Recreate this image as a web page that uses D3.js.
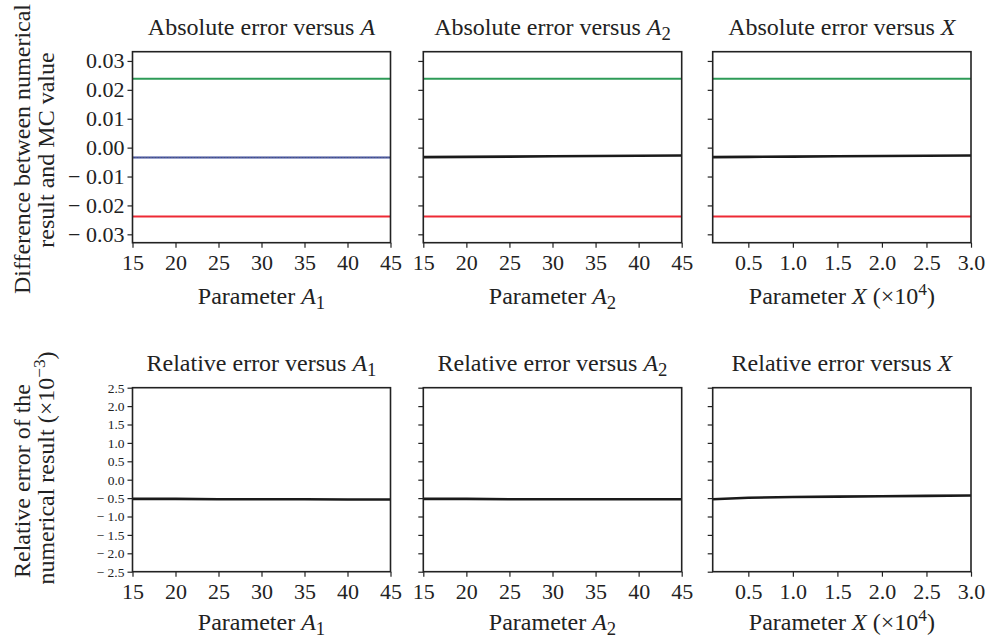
<!DOCTYPE html>
<html>
<head>
<meta charset="utf-8">
<script src="https://cdn.jsdelivr.net/npm/d3@7"></script>
<style>
  body { margin: 0; background: #fff; }
  svg { display: block; }
  text { font-family: "Liberation Serif", "Times New Roman", serif; fill: #222; }
</style>
</head>
<body>
<svg id="chart" width="991" height="641"></svg>
<script>
// Parameter grids
var paramA = [15, 20, 25, 30, 35, 40, 45];
var paramX = [0.1, 0.5, 1.0, 1.5, 2.0, 2.5, 3.0];

// Absolute error (numerical - MC) and MC confidence bounds
var upperBound = [0.0238, 0.0238, 0.0238, 0.0238, 0.0238, 0.0238, 0.0238];
var lowerBound = [-0.0238, -0.0238, -0.0238, -0.0238, -0.0238, -0.0238, -0.0238];
var absErrA1 = [-0.0034, -0.0034, -0.0034, -0.0034, -0.0034, -0.0034, -0.0034];
var absErrA2 = [-0.0033, -0.0032, -0.0031, -0.0030, -0.0029, -0.0028, -0.0027];
var absErrX = [-0.0033, -0.0032, -0.0031, -0.0030, -0.0029, -0.0028, -0.0027];

// Relative error (x 10^-3)
var relErrA1 = [-0.52, -0.52, -0.53, -0.53, -0.53, -0.54, -0.54];
var relErrA2 = [-0.52, -0.52, -0.53, -0.53, -0.53, -0.53, -0.53];
var relErrX = [-0.53, -0.49, -0.47, -0.46, -0.45, -0.44, -0.43];

// Tick labels
var absTicks = [-0.03, -0.02, -0.01, 0, 0.01, 0.02, 0.03];
var relTicks = [-2.5, -2.0, -1.5, -1.0, -0.5, 0, 0.5, 1.0, 1.5, 2.0, 2.5];
var aTicks = [15, 20, 25, 30, 35, 40, 45];
var xTicks = [0.5, 1.0, 1.5, 2.0, 2.5, 3.0];

var svg = d3.select("#chart");

var cols = [[132.5, 390.5], [423.3, 681.7], [712.7, 971]];
var rows = [[51.7, 242.7], [387.7, 571.7]];
var labelSize = 24;

function fmtSigned(digits) {
    return function(d) {
        var s = Math.abs(d).toFixed(digits);
        return d < 0 ? "\u2212 " + s : s;
    };
}

// add text with italic symbol and optional subscript / superscript pieces
function richText(g, parts, size) {
    parts.forEach(function(p) {
        var t = g.append("tspan").text(p.t);
        if (p.i) t.style("font-style", "italic");
        if (p.sub) t.attr("dy", size * 0.22).style("font-size", (size * 0.78) + "px");
        if (p.sup) t.attr("dy", -size * 0.36).style("font-size", (size * 0.72) + "px");
        if (p.back) t.attr("dy", p.back);
    });
}

var panels = [
    { row: 0, col: 0, x: paramA, xDom: [15, 45], xt: aTicks, series: [
        { v: upperBound, c: "#2e9b57", w: 2 },
        { v: lowerBound, c: "#ee2a35", w: 2 },
        { v: absErrA1, c: "#3b4a9e", w: 2 },
        { v: absErrA1, c: "#777", w: 1, dash: "1,2" }],
      title: [{ t: "Absolute error versus " }, { t: "A", i: true }],
      xlab: [{ t: "Parameter " }, { t: "A", i: true }, { t: "1", sub: true }] },
    { row: 0, col: 1, x: paramA, xDom: [15, 45], xt: aTicks, series: [
        { v: upperBound, c: "#2e9b57", w: 2 },
        { v: lowerBound, c: "#ee2a35", w: 2 },
        { v: absErrA2, c: "#1a1a1a", w: 2.6 }],
      title: [{ t: "Absolute error versus " }, { t: "A", i: true }, { t: "2", sub: true }],
      xlab: [{ t: "Parameter " }, { t: "A", i: true }, { t: "2", sub: true }] },
    { row: 0, col: 2, x: paramX, xDom: [0.1, 3.0], xt: xTicks, series: [
        { v: upperBound, c: "#2e9b57", w: 2 },
        { v: lowerBound, c: "#ee2a35", w: 2 },
        { v: absErrX, c: "#1a1a1a", w: 2.6 }],
      title: [{ t: "Absolute error versus " }, { t: "X", i: true }],
      xlab: [{ t: "Parameter " }, { t: "X", i: true }, { t: "  (\u00d710" }, { t: "4", sup: true }, { t: ")", back: 8.6 }] },
    { row: 1, col: 0, x: paramA, xDom: [15, 45], xt: aTicks, series: [
        { v: relErrA1, c: "#1a1a1a", w: 2.6 }],
      title: [{ t: "Relative error versus " }, { t: "A", i: true }, { t: "1", sub: true }],
      xlab: [{ t: "Parameter " }, { t: "A", i: true }, { t: "1", sub: true }] },
    { row: 1, col: 1, x: paramA, xDom: [15, 45], xt: aTicks, series: [
        { v: relErrA2, c: "#1a1a1a", w: 2.6 }],
      title: [{ t: "Relative error versus " }, { t: "A", i: true }, { t: "2", sub: true }],
      xlab: [{ t: "Parameter " }, { t: "A", i: true }, { t: "2", sub: true }] },
    { row: 1, col: 2, x: paramX, xDom: [0.1, 3.0], xt: xTicks, series: [
        { v: relErrX, c: "#1a1a1a", w: 2.6 }],
      title: [{ t: "Relative error versus " }, { t: "X", i: true }],
      xlab: [{ t: "Parameter " }, { t: "X", i: true }, { t: "  (\u00d710" }, { t: "4", sup: true }, { t: ")", back: 8.6 }] }
];

panels.forEach(function(p) {
    var xr = cols[p.col], yr = rows[p.row];
    var x = d3.scaleLinear().domain(p.xDom).range(xr);
    var y = p.row === 0
        ? d3.scaleLinear().domain([-0.0329, 0.0332]).range([yr[1], yr[0]])
        : d3.scaleLinear().domain([-2.5, 2.5]).range([yr[1], yr[0]]);

    var g = svg.append("g");

    // y axis
    var yAxis = d3.axisLeft(y)
        .tickValues(p.row === 0 ? absTicks : relTicks)
        .tickSize(5)
        .tickPadding(3)
        .tickFormat(p.col === 0 ? fmtSigned(p.row === 0 ? 2 : 1) : "");
    var ya = g.append("g").attr("transform", "translate(" + xr[0] + ",0)").call(yAxis);
    ya.select(".domain").remove();
    ya.selectAll("line").attr("stroke", "#222").attr("stroke-width", 1.2);
    ya.selectAll("text").style("font-size", p.row === 0 ? "22px" : "13.5px")
        .attr("fill", "#222");

    // x axis
    var xAxis = d3.axisBottom(x)
        .tickValues(p.xt)
        .tickSize(5)
        .tickPadding(7)
        .tickFormat(p.xDom[0] === 15 ? d3.format("d") : d3.format(".1f"));
    var xa = g.append("g").attr("transform", "translate(0," + yr[1] + ")").call(xAxis);
    xa.select(".domain").remove();
    xa.selectAll("line").attr("stroke", "#222").attr("stroke-width", 1.2);
    xa.selectAll("text").style("font-size", "22px").attr("fill", "#222");

    // data lines
    var line = d3.line()
        .x(function(d, i) { return x(p.x[i]); })
        .y(function(d) { return y(d); });
    p.series.forEach(function(s) {
        g.append("path")
            .datum(s.v)
            .attr("d", line)
            .attr("fill", "none")
            .attr("stroke", s.c)
            .attr("stroke-width", s.w)
            .attr("stroke-dasharray", s.dash || null);
    });

    // frame
    g.append("rect")
        .attr("x", xr[0]).attr("y", yr[0])
        .attr("width", xr[1] - xr[0]).attr("height", yr[1] - yr[0])
        .attr("fill", "none").attr("stroke", "#222").attr("stroke-width", 1.6);

    var cx = (xr[0] + xr[1]) / 2;
    var title = g.append("text")
        .attr("x", cx).attr("y", yr[0] - 17)
        .attr("text-anchor", "middle").style("font-size", labelSize + "px");
    richText(title, p.title, labelSize);

    var xl = g.append("text")
        .attr("x", cx).attr("y", yr[1] + (p.row === 0 ? 61 : 58))
        .attr("text-anchor", "middle").style("font-size", labelSize + "px");
    richText(xl, p.xlab, labelSize);
});

// y axis titles, one entry per line: [center y, parts]
function yTitle(lines) {
    lines.forEach(function(ln, i) {
        var t = svg.append("text")
            .attr("transform", "translate(" + (30 + i * 24) + "," + ln[0] + ") rotate(-90)")
            .attr("text-anchor", "middle")
            .style("font-size", labelSize + "px");
        richText(t, ln[1], labelSize);
    });
}
yTitle([[149, [{ t: "Difference between numerical" }]], [150, [{ t: "result and MC value" }]]]);
yTitle([[481, [{ t: "Relative error of the" }]],
    [468, [{ t: "numerical result (\u00d710" }, { t: "\u22123", sup: true }, { t: ")", back: 8.6 }]]]);
</script>
</body>
</html>
